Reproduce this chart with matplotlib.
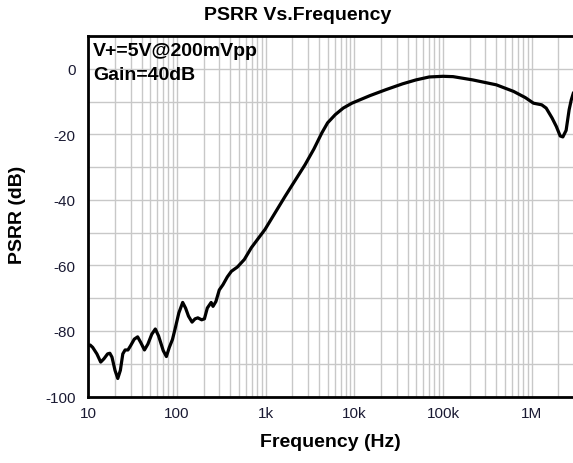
import matplotlib
matplotlib.use("Agg")
import matplotlib.pyplot as plt
from matplotlib.ticker import FixedLocator, LogLocator, NullFormatter, MultipleLocator

plt.rcParams['font.family'] = ['Liberation Sans', 'DejaVu Sans']

freq = [10, 10.5, 11.2, 12.5, 13.8, 15, 16.5, 17.5, 18.5, 20, 21.5, 23, 24.5, 26, 28, 30,
        33, 36, 39, 43, 47, 52, 57, 62, 70, 76, 82, 89, 95, 105, 116, 125, 135, 148, 160,
        172, 190, 204, 220, 243, 255, 275, 300, 330, 370, 411, 480, 575, 690, 985, 1660,
        2780, 3500, 4300, 5000, 6100, 7500, 9400, 15000, 22600, 35000, 49600, 70000,
        100000, 130000, 217000, 400000, 625000, 850000, 1.05e6, 1.3e6, 1.46e6, 1.7e6,
        1.9e6, 2.1e6, 2.25e6, 2.45e6, 2.65e6, 2.8e6, 2.95e6]
psrr = [-84.5, -84.3, -85, -87, -89.5, -88.5, -87, -86.8, -88, -92, -94.5, -92, -87, -85.8,
        -85.8, -84.5, -82.5, -81.8, -83.5, -85.8, -84, -81, -79.4, -81.5, -86, -87.8, -85,
        -82.6, -79.5, -74.5, -71.3, -73, -75.5, -77.3, -76.3, -76, -76.6, -76.3, -73, -71.3,
        -72.5, -71, -67.5, -65.9, -63.5, -61.8, -60.5, -58.2, -54.6, -49, -38.9, -29.3,
        -24.5, -19.6, -16.5, -14, -12, -10.5, -8.2, -6.4, -4.6, -3.4, -2.5, -2.3, -2.4,
        -3.4, -4.9, -6.9, -8.8, -10.5, -11, -12, -15, -17.6, -20.5, -20.8, -18.8, -12.5,
        -9.5, -7.5]

xticks = [10, 100, 1e3, 1e4, 1e5, 1e6]
xticklabels = ['10', '100', '1k', '10k', '100k', '1M']
yticks = [0, -20, -40, -60, -80, -100]
yticklabels = ['0', '-20', '-40', '-60', '-80', '-100']

W, H = 573, 464
fig = plt.figure(figsize=(5.73, 4.64), dpi=100)
ax = fig.add_axes([88.3 / W, 1 - 397.5 / H, 1 - 88.3 / W, (397.5 - 37) / H])

ax.semilogx(freq, psrr, color='black', linewidth=2.3, solid_joinstyle='round', zorder=3)
ax.set_xlim(10, 2.93e6)
ax.set_ylim(-100, 10)

ax.xaxis.set_major_locator(FixedLocator(xticks))
ax.set_xticklabels(xticklabels)
ax.xaxis.set_minor_locator(LogLocator(base=10, subs=range(2, 10), numticks=20))
ax.xaxis.set_minor_formatter(NullFormatter())
ax.yaxis.set_major_locator(FixedLocator(yticks))
ax.set_yticklabels(yticklabels)
ax.yaxis.set_minor_locator(MultipleLocator(10))

ax.grid(True, which='both', color='#c8c8c8', linewidth=1.0, zorder=0)
ax.set_axisbelow(True)
ax.tick_params(which='both', length=0)
ax.tick_params(axis='x', pad=7, labelsize=11, labelcolor='#1a1a33')
ax.tick_params(axis='y', pad=9, labelsize=11, labelcolor='#1a1a33')

for s in ['left', 'bottom', 'top']:
    ax.spines[s].set_linewidth(2.0)
    ax.spines[s].set_color('black')
ax.spines['right'].set_visible(False)

fig.text(298 / W, 1 - 15 / H, 'PSRR Vs.Frequency', ha='center', va='center',
         fontsize=14, fontweight='bold')
fig.text(330.5 / W, 1 - 443 / H, 'Frequency (Hz)', ha='center', va='center',
         fontsize=14, fontweight='bold')
fig.text(18 / W, 1 - 215 / H, 'PSRR (dB)', ha='center', va='center', rotation=90,
         fontsize=14, fontweight='bold')

fig.text(93 / W, 1 - 52 / H, 'V+=5V@200mVpp', fontsize=14, fontweight='bold', va='center')
fig.text(93 / W, 1 - 76 / H, 'Gain=40dB', fontsize=14, fontweight='bold', va='center')

fig.savefig('out.png', dpi=100)
